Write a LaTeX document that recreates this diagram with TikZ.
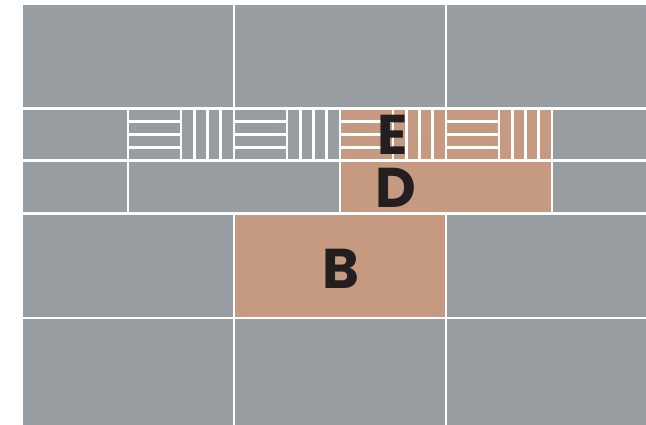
\documentclass[tikz,border=0pt]{standalone}
\usepackage{fontspec}
\newfontfamily\tilefont{Poppins}
\definecolor{myslate}{RGB}{152, 157, 161}
\definecolor{myclay}{RGB}{197, 154, 128}
\definecolor{myink}{RGB}{35, 31, 32}

\begin{document}
\begin{tikzpicture}[
			x=1pt, y=-1pt,
			tile/.style={draw=white, line width=2.9pt, fill=myslate},
			mark letter/.style={font=\tilefont\bfseries\fontsize{56}{56}\selectfont,
				text=myink, inner sep=0pt},
			]
			\useasboundingbox (0,0) rectangle (646,425);
			\clip (0,6) rectangle (646,425);
			\foreach \x/\c in {22/myslate, 234/myslate, 446/myslate} {
				\draw[tile, fill=\c] (\x,3.5) rectangle ++(212,104.8);
				\draw[tile, fill=\c] (\x,318) rectangle ++(212,112);
			}
			\foreach \x/\c in {22/myslate, 234/myclay, 446/myslate}
			\draw[tile, fill=\c] (\x,213.3) rectangle ++(212,104.7);
			\foreach \x/\w/\c in {22/106/myslate, 128/212/myslate, 340/212/myclay, 552/106/myslate}
			\draw[tile, fill=\c] (\x,160.7) rectangle ++(\w,52.6);
			\draw[tile] (22,108.3) rectangle ++(106,52.4);
			\draw[tile] (552,108.3) rectangle ++(106,52.4);
			\foreach \x/\c in {128/myslate, 234/myslate, 340/myclay, 446/myclay}
			\foreach \k in {0,...,3} {
				\draw[tile, fill=\c] (\x,108.3+13.1*\k) rectangle ++(53,13.1);
				\draw[tile, fill=\c] (\x+53+13.25*\k,108.3) rectangle ++(13.25,52.4);
			}
			\node[mark letter] (e) at (392.5,135) {E};
			\node[mark letter] (d) at (395.5,187.5) {D};
			\node[mark letter] (b) at (341,269) {B};
	\end{tikzpicture}
\end{document}
